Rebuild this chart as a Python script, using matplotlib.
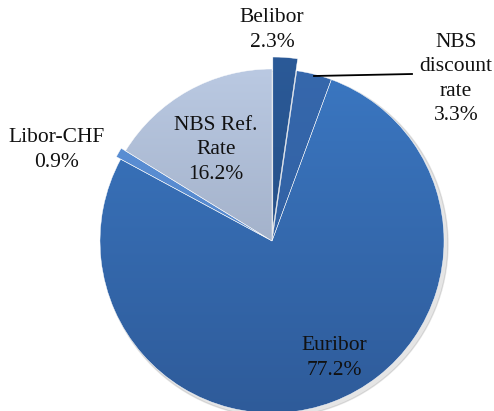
import numpy as np
import matplotlib
matplotlib.use("Agg")
import matplotlib.pyplot as plt
import matplotlib.colors as mcolors

# rate shares (%) in drawing order, clockwise from 12 o'clock
labels = ["Belibor", "NBS discount rate", "Euribor", "Libor-CHF", "NBS Ref. Rate"]
shares = [2.3, 3.3, 77.2, 0.9, 16.2]
explode = [12, 0, 0, 5, 0]

# top / bottom colours of each slice's vertical gradient
top_cols = ["#2b5a98", "#3668ad", "#3b78c3", "#5d92d8", "#bccbe4"]
bot_cols = ["#1f4678", "#2f5d9c", "#2e5a98", "#4f80c4", "#8c9ab2"]

W, H = 494, 411
fig = plt.figure(figsize=(W / 100, H / 100), dpi=100)
ax = fig.add_axes([0, 0, 1, 1])

cx, cy, r = 272, H - 241, 172

wedges, _ = ax.pie(shares, explode=explode, startangle=90, counterclock=False,
                   radius=r, center=(cx, cy), frame=True,
                   wedgeprops=dict(edgecolor="white", linewidth=0.3))
ax.set_xlim(0, W)
ax.set_ylim(0, H)
ax.set_aspect("equal")
ax.axis("off")

# soft shadow to the lower right of the disc
shadow = plt.Circle((cx + 3, cy - 3), r + 1, color="#000000", alpha=0.10, zorder=0.5)
ax.add_patch(shadow)

for w, c0, c1 in zip(wedges, top_cols, bot_cols):
    cmap = mcolors.LinearSegmentedColormap.from_list("g", [c1, c0])
    grad = np.linspace(0, 1, 256).reshape(-1, 1)
    im = ax.imshow(grad, cmap=cmap, origin="lower", aspect="auto",
                   extent=(cx - r - 15, cx + r + 15, cy - r - 15, cy + r + 15),
                   zorder=1.5)
    im.set_clip_path(w)
    w.set_zorder(2)
    w.set_facecolor("none")

font = dict(family="Liberation Serif", fontsize=15.5, color="#111111",
            ha="center", va="center", linespacing=1.38, zorder=5)

ax.text(272, H - 30, "Belibor\n2.3%", **font)
ax.text(456, H - 79, "NBS\ndiscount\nrate\n3.3%", **font)
ax.text(216, H - 150, "NBS Ref.\nRate\n16.2%", **font)
ax.text(57, H - 150, "Libor-CHF\n0.9%", **font)
ax.text(334, H - 358, "Euribor\n77.2%", **font)

# leader line for the discount-rate label
ax.plot([314, 412], [H - 76, H - 74], color="black", lw=1.3, zorder=5)

fig.savefig("out.png", dpi=100)
